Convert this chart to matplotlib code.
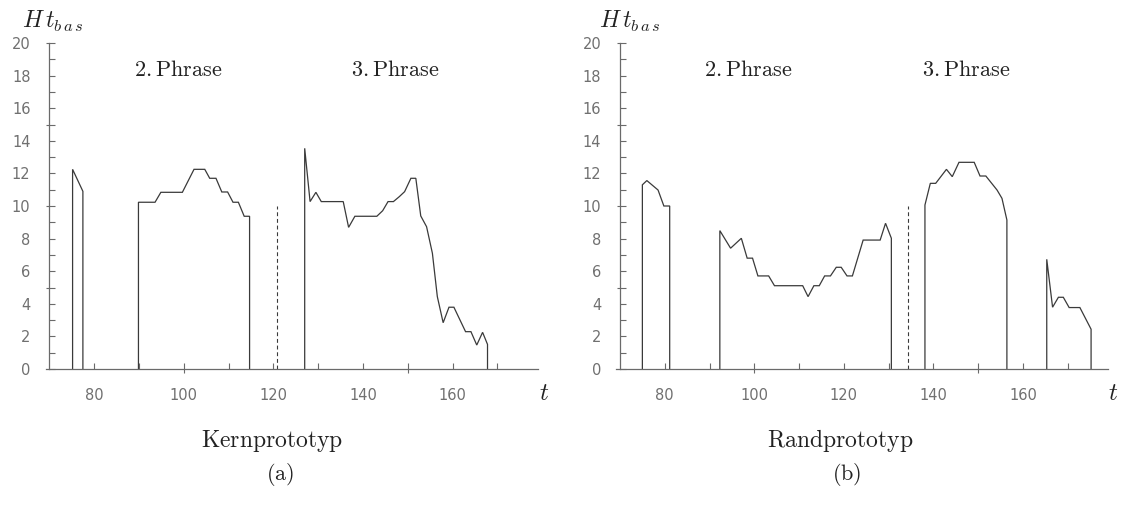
import numpy as np
import matplotlib
matplotlib.use("Agg")
import matplotlib.pyplot as plt
from matplotlib.ticker import FixedLocator, FuncFormatter

plt.rcParams['mathtext.fontset'] = 'cm'

# ---------------- data ----------------
# (a) Kernprototyp
a_seg1_t = [75.2, 77.5]
a_seg1_h = [12.25, 10.9]
a_seg2_t = [89.9, 93.6, 94.9, 99.7, 102.3, 104.7, 105.8, 107.2, 108.5, 109.8,
            111.0, 112.2, 113.5, 114.7]
a_seg2_h = [10.23, 10.23, 10.84, 10.84, 12.25, 12.25, 11.7, 11.7, 10.86, 10.86,
            10.23, 10.23, 9.37, 9.37]
a_seg3_t = [127.0, 128.2, 129.5, 130.7, 135.6, 136.8, 138.2, 143.1, 144.4, 145.6,
            146.8, 148.1, 149.3, 150.7, 151.8, 152.9, 154.2, 155.5, 156.6, 157.9,
            159.2, 160.3, 162.9, 164.1, 165.4, 166.7, 167.8]
a_seg3_h = [13.54, 10.27, 10.84, 10.27, 10.27, 8.69, 9.37, 9.37, 9.71, 10.27,
            10.27, 10.57, 10.88, 11.7, 11.7, 9.39, 8.73, 7.1, 4.44, 2.84,
            3.79, 3.79, 2.29, 2.29, 1.47, 2.25, 1.51]
a_boundary_t = 120.8
a_boundary_h = 10.0

# (b) Randprototyp
b_seg1_t = [75.0, 76.0, 78.5, 79.8, 81.1]
b_seg1_h = [11.3, 11.56, 10.98, 10.0, 10.0]
b_seg2_t = [92.3, 94.7, 97.1, 98.4, 99.6, 100.8, 103.2, 104.5, 110.8, 112.0,
            113.3, 114.5, 115.7, 117.0, 118.3, 119.4, 120.7, 121.9, 124.3, 128.1,
            129.3, 130.6]
b_seg2_h = [8.49, 7.41, 8.02, 6.8, 6.8, 5.71, 5.71, 5.11, 5.11, 4.44,
            5.11, 5.11, 5.71, 5.71, 6.24, 6.24, 5.71, 5.71, 7.91, 7.91,
            8.94, 8.02]
b_seg3_t = [138.1, 139.3, 140.5, 142.9, 144.2, 145.7, 149.1, 150.4, 151.7, 154.2,
            155.3, 156.4]
b_seg3_h = [10.06, 11.39, 11.39, 12.25, 11.8, 12.68, 12.68, 11.84, 11.84, 10.98,
            10.47, 9.14]
b_seg4_t = [165.3, 166.6, 167.9, 169.0, 170.3, 172.7, 175.2]
b_seg4_h = [6.73, 3.79, 4.4, 4.4, 3.77, 3.77, 2.44]
b_boundary_t = 134.4
b_boundary_h = 10.0

phrase_labels = ["2.Phrase", "3.Phrase"]
phrase_t = [98.7, 147.3]
phrase_h = 18.0
x_tick_values = [80, 90, 100, 110, 120, 130, 140, 150, 160, 170]
x_tick_labels = ["80", "", "100", "", "120", "", "140", "", "160", ""]
x_cross_ticks = [100, 150]
y_tick_values = list(range(0, 21))
y_cross_ticks = [5, 10, 15, 20]
captions = ["Kernprototyp", "Randprototyp"]
sublabels = ["(a)", "(b)"]

# ---------------- figure ----------------
W, H = 1122, 517
fig = plt.figure(figsize=(W / 100, H / 100), dpi=100)

LINE_C = '#3a3a3a'
AX_C = '#6a6a6a'
TXT_C = '#707070'
FS = 16

def px_axes(left, right, top, bottom):
    return [left / W, 1 - bottom / H, (right - left) / W, (bottom - top) / H]

def draw_segment(ax, t, h):
    tt = np.r_[t[0], t, t[-1]]
    hh = np.r_[0.0, h, 0.0]
    ax.plot(tt, hh, color=LINE_C, lw=0.9, solid_joinstyle='miter')

def setup(ax):
    ax.set_xlim(69.2, 179.0)
    ax.set_ylim(0, 20)
    for s in ['top', 'right']:
        ax.spines[s].set_visible(False)
    ax.spines['left'].set_position(('data', 70))
    for s in ['left', 'bottom']:
        ax.spines[s].set_color(AX_C)
        ax.spines[s].set_linewidth(0.9)
    ax.xaxis.remove_overlapping_locs = False
    ax.yaxis.remove_overlapping_locs = False
    ax.xaxis.set_major_locator(FixedLocator(x_tick_values))
    ax.xaxis.set_major_formatter(FuncFormatter(
        lambda v, p: x_tick_labels[x_tick_values.index(int(round(v)))]
        if int(round(v)) in x_tick_values else ""))
    ax.xaxis.set_minor_locator(FixedLocator(x_cross_ticks))
    ax.yaxis.set_major_locator(FixedLocator(y_tick_values))
    ax.yaxis.set_major_formatter(FuncFormatter(
        lambda v, p: f"{int(round(v))}" if int(round(v)) % 2 == 0 else ""))
    ax.yaxis.set_minor_locator(FixedLocator(y_cross_ticks))
    ax.tick_params(axis='x', which='major', direction='in', length=4.3,
                   width=0.8, color=AX_C, pad=13.5, labelsize=10.5,
                   labelcolor=TXT_C)
    ax.tick_params(axis='x', which='minor', direction='out', length=3.0,
                   width=0.8, color=AX_C)
    ax.tick_params(axis='y', which='major', direction='in', length=4.3,
                   width=0.8, color=AX_C, pad=13.5, labelsize=10.5,
                   labelcolor=TXT_C)
    ax.tick_params(axis='y', which='minor', direction='out', length=2.2,
                   width=0.8, color=AX_C)
    ax.patch.set_visible(False)

panels = [
    dict(rect=px_axes(45.7, 537.7, 43, 369),
         segs=[(a_seg1_t, a_seg1_h), (a_seg2_t, a_seg2_h), (a_seg3_t, a_seg3_h)],
         bound=(a_boundary_t, a_boundary_h), hx=22, tx=544, cx=272, sx=280),
    dict(rect=px_axes(616.4, 1108.1, 43, 369),
         segs=[(b_seg1_t, b_seg1_h), (b_seg2_t, b_seg2_h), (b_seg3_t, b_seg3_h),
               (b_seg4_t, b_seg4_h)],
         bound=(b_boundary_t, b_boundary_h), hx=599, tx=1113, cx=840, sx=847),
]

for i, p in enumerate(panels):
    ax = fig.add_axes(p['rect'])
    setup(ax)
    for t, h in p['segs']:
        draw_segment(ax, t, h)
    bt, bh = p['bound']
    ax.plot([bt, bt], [0, bh], color=LINE_C, lw=0.8, ls=(0, (3.5, 2.5)))
    for lab, x in zip(phrase_labels, phrase_t):
        ax.text(x, phrase_h, r'$\mathrm{' + lab + '}$', ha='center',
                va='baseline', fontsize=FS, color='#222222')
    fig.text(p['hx'] / W, 1 - 21 / H, r'$H\,t_{b\,a\,s}$', ha='left', va='center',
             fontsize=17, color='#222222')
    fig.text(p['tx'] / W, 1 - 393 / H, r'$t$', ha='center', va='center',
             fontsize=18, color='#222222')
    fig.text(p['cx'] / W, 1 - 447 / H, r'$\mathrm{' + captions[i] + '}$',
             ha='center', va='baseline', fontsize=17, color='#222222')
    fig.text(p['sx'] / W, 1 - 475 / H, r'$\mathrm{' + sublabels[i] + '}$',
             ha='center', va='center', fontsize=FS, color='#222222')

fig.savefig('out.png', dpi=100)
